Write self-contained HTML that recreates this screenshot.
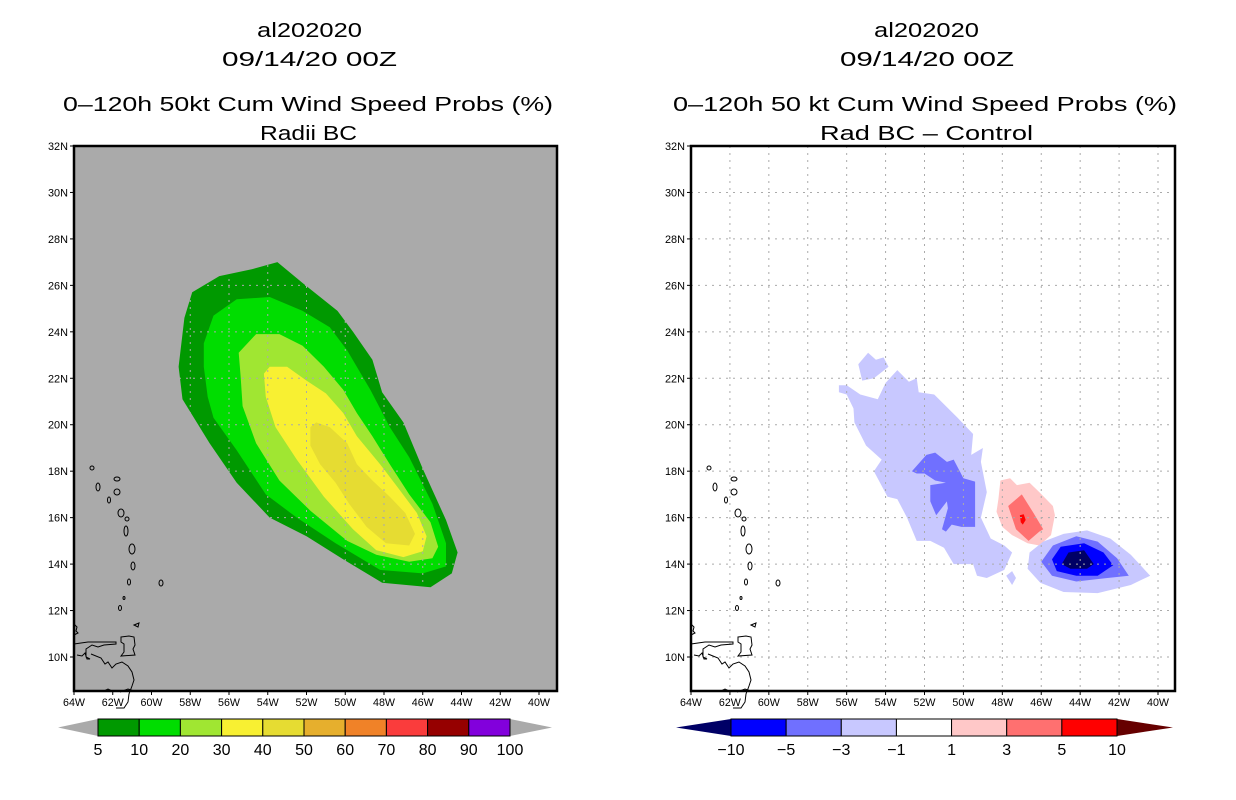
<!DOCTYPE html>
<html><head><meta charset="utf-8">
<style>
html,body{margin:0;padding:0;background:#fff;}
svg{display:block;font-family:"Liberation Sans","DejaVu Sans",sans-serif;}
</style></head>
<body>
<svg id="chart" width="1236" height="800" viewBox="0 0 1236 800" xmlns="http://www.w3.org/2000/svg">
<g font-size="20" fill="#000">
<text x="257" y="37" textLength="105" lengthAdjust="spacingAndGlyphs">al202020</text>
<text x="222" y="66" textLength="175" lengthAdjust="spacingAndGlyphs">09/14/20 00Z</text>
<text x="63" y="111" textLength="490" lengthAdjust="spacingAndGlyphs">0–120h 50kt Cum Wind Speed Probs (%)</text>
<text x="260" y="140" textLength="97" lengthAdjust="spacingAndGlyphs">Radii BC</text>
<text x="874" y="37" textLength="105" lengthAdjust="spacingAndGlyphs">al202020</text>
<text x="840" y="66" textLength="174" lengthAdjust="spacingAndGlyphs">09/14/20 00Z</text>
<text x="673" y="111" textLength="504" lengthAdjust="spacingAndGlyphs">0–120h 50 kt Cum Wind Speed Probs (%)</text>
<text x="820" y="140" textLength="213" lengthAdjust="spacingAndGlyphs">Rad BC – Control</text>
</g>
<g id="leftPanel"></g>
<g id="rightPanel"></g>
<g id="leftBar"></g>
<g id="rightBar"></g>
</svg>
<script>
// ---- axis tick data ----
const lonTicks = [64,62,60,58,56,54,52,50,48,46,44,42,40];
const latTicks = [32,30,28,26,24,22,20,18,16,14,12,10];

// ---- left panel contour bands (lon W, lat N) ----
const band5Lon  = [53.5,52.2,50.4,49.6,48.6,48.1,47.0,46.0,44.8,44.2,44.5,45.6,48.1,50.1,52.0,53.9,55.6,57.0,58.4,58.6,58.3,57.9,56.5,54.8];
const band5Lat  = [27.0,26.1,24.9,24.0,22.8,21.4,20.1,18.1,15.9,14.5,13.6,13.0,13.2,14.2,15.2,16.0,17.5,19.2,21.1,22.5,24.6,25.7,26.4,26.7];
const band10Lon = [57.3,56.8,55.6,53.9,52.2,50.8,49.9,48.7,47.7,46.7,45.5,44.8,44.8,46.0,48.2,50.5,52.5,54.1,55.6,56.8,57.1,57.3];
const band10Lat = [23.5,24.7,25.4,25.5,24.9,24.2,23.2,21.5,19.9,18.6,16.6,14.9,13.9,13.6,13.75,14.9,16.0,17.0,18.9,20.3,21.2,22.5];
const band20Lon = [55.5,54.6,53.4,52.2,51.1,50.1,49.4,48.6,47.7,46.7,45.6,45.2,45.5,46.7,48.4,49.9,51.8,53.4,54.6,55.3,55.4];
const band20Lat = [23.1,23.9,23.9,23.4,22.5,21.5,20.5,19.5,18.3,17.0,15.8,14.75,14.25,14.1,14.4,15.0,16.3,17.6,19.2,20.8,22.1];
const band30Lon = [54.2,53.9,53.0,52.0,51.0,50.1,49.4,48.2,47.2,46.3,45.8,46.0,47.0,48.4,49.6,51.1,52.5,53.6,54.1];
const band30Lat = [22.2,22.5,22.5,21.9,21.35,20.5,19.5,18.3,17.2,16.2,15.2,14.55,14.3,14.6,15.5,16.9,18.5,19.9,21.2];
const band40Lon = [51.8,51.5,50.8,49.9,49.4,48.6,47.7,46.9,46.4,46.7,47.9,48.9,49.8,50.5,51.3,51.8];
const band40Lat = [19.9,20.1,19.9,19.2,18.3,17.6,16.9,16.2,15.3,14.8,14.9,15.6,16.6,17.5,18.3,19.1];

// ---- right panel difference contours ----
const negMainLon = [56.4,56.0,55.3,54.4,54.0,53.4,52.8,52.4,52.3,51.5,50.3,49.5,49.6,49.0,49.1,48.8,49.1,48.6,47.9,47.5,47.9,48.8,49.3,49.5,50.5,51.0,51.7,52.4,52.9,53.4,53.9,54.6,54.2,55.0,55.6,55.65,56.0,56.4];
const negMainLat = [21.7,21.7,21.3,21.1,21.8,22.35,21.85,22.0,21.4,21.3,20.3,19.6,18.7,19.0,18.4,17.1,16.0,15.1,14.8,14.5,13.75,13.4,13.5,14.0,14.0,14.7,15.0,15.0,16.0,16.8,16.9,18.0,18.5,19.1,20.1,20.7,21.3,21.4];
const negBlobLon = [55.4,54.9,54.5,54.1,53.85,54.6,55.2];
const negBlobLat = [22.6,23.1,22.8,22.9,22.5,22.0,21.9];
const negTriLon  = [47.8,47.5,47.3,47.5];
const negTriLat  = [13.5,13.7,13.4,13.1];
const neg3WLon   = [52.65,51.9,51.45,50.85,50.5,50.0,49.4,49.4,50.1,50.6,50.9,51.1,50.8,50.85,51.4,51.7,51.7,50.9,51.45,52.0,52.4];
const neg3WLat   = [18.0,18.7,18.8,18.4,18.5,17.7,17.55,15.6,15.6,15.7,15.4,15.5,16.4,16.7,16.1,16.7,17.4,17.5,17.6,17.9,17.9];
const pos1Lon = [48.1,47.6,47.25,46.6,46.1,45.4,45.3,45.5,46.1,46.7,47.5,48.0,48.3,48.2];
const pos1Lat = [17.6,17.7,17.4,17.5,17.1,16.5,16.1,15.25,14.8,14.9,15.25,15.6,16.25,16.8];
const pos3Lon = [47.7,47.0,46.4,45.9,46.1,46.65,47.3];
const pos3Lat = [16.5,17.0,16.2,15.5,15.4,15.0,15.5];
const pos5Lon = [47.1,46.9,46.8,46.95,47.05];
const pos5Lat = [16.1,16.15,15.9,15.7,15.8];
const negE1Lon = [46.6,45.9,44.85,43.65,42.45,41.4,40.4,41.4,43.1,44.85,46.05,46.7];
const negE1Lat = [14.5,14.97,15.3,15.45,15.1,14.4,13.5,13.1,12.75,12.8,13.2,13.8];
const negE3Lon = [46.0,45.4,44.2,43.1,42.1,41.5,42.6,44.2,45.45];
const negE3Lat = [14.1,14.8,15.2,14.97,14.25,13.5,13.4,13.25,13.5];
const negE5Lon = [45.45,45.0,43.8,42.8,42.3,43.1,44.2,45.2];
const negE5Lat = [14.2,14.75,14.9,14.5,13.95,13.5,13.5,13.7];
const negE10Lon = [44.95,44.6,43.8,43.3,43.65,44.5];
const negE10Lat = [14.0,14.5,14.6,14.0,13.8,13.8];

// ---- colorbar data ----
const probLevels = ["5","10","20","30","40","50","60","70","80","90","100"];
const probColors = ["#009900","#00dd00","#a0e632","#f8f032","#e6dc32","#e6af2d","#f08228","#fa3c3c","#960000","#8200dc"];
const diffLevels = ["−10","−5","−3","−1","1","3","5","10"];
const diffColors = ["#0000ff","#7070ff","#c8c8ff","#ffffff","#ffc8c8","#ff7070","#ff0000"];

const NS = "http://www.w3.org/2000/svg";
function mk(tag, attrs, parent){const e=document.createElementNS(NS,tag);for(const k in attrs)e.setAttribute(k,attrs[k]);parent.appendChild(e);return e;}

function makePanel(g, left, right, lon40x, bg){
  const top=146, bottom=691;
  const xs=(lon)=>left+(64-lon)*(lon40x-left)/24;
  const ys=(lat)=>top+(32-lat)*(657-top)/22;
  const r=mk('rect',{x:left,y:top,width:right-left,height:bottom-top,fill:bg},g);
  
  
  return {xs,ys,top,bottom,left,right};
}
function poly(g, ax, lons, lats, fill, name){
  const pts=lons.map((lo,i)=>ax.xs(lo).toFixed(1)+','+ax.ys(lats[i]).toFixed(1)).join(' ');
  const p=mk('polygon',{points:pts,fill:fill},g);
  
  
}
function grid(g, ax, color){
  lonTicks.forEach(lo=>{const x=ax.xs(lo);if(x>ax.left+1&&x<ax.right-1){const l=mk('line',{x1:x,y1:ax.top,x2:x,y2:ax.bottom,stroke:color,'stroke-width':1,'stroke-dasharray':'2,5'},g);
    
    }});
  latTicks.forEach(la=>{const y=ax.ys(la);if(y>ax.top+1&&y<ax.bottom-1){const l=mk('line',{x1:ax.left,y1:y,x2:ax.right,y2:y,stroke:color,'stroke-width':1,'stroke-dasharray':'2,5'},g);
    
    }});
}
function coast(g, ax){
  const L=ax.left, T=ax.top;
  const isl=[[18,322,2,2],[43,333,3,2],[24,341,2,4],[43,346,3,3],[35,354,1.5,3],[47,367,3,4],[53,373,2,2],[52,385,2,5],[58,403,3,5],[59,420,2,4],[55,436,1.5,3],[87,437,2,3],[50,452,1,1.5],[46,462,1.5,2.5]];
  isl.forEach(a=>{const e=mk('ellipse',{cx:L+a[0],cy:T+a[1],rx:a[2],ry:a[3],fill:'none',stroke:'#000','stroke-width':1},g);
    
    });
  const paths=[
   `M${L+60} ${T+479} l5 -2 l-1 4 z`,
   `M${L+47} ${T+491} l8 -1 l5 1 l1 8 l-2 4 l2 6 l-14 1 l3 -4 l0 -8 l-3 -2 z`,
   `M${L} ${T+498} l14 -2 l28 0 l0 2 l-12 1 l-6 2 l-6 -2 l-6 4 l0 8 l4 2 l-3 0 l-2 -6 l-3 3 l-5 -1`,
   `M${L+17} ${T+508} l10 4 l4 6 l3 -2 l4 6 l4 -4 l6 -2 l6 4 l4 6 l2 8 l-2 6 l-3 8 l-1 8 l-4 6 l-8 0`,
   `M${L} ${T+478} l3 3 l-1 4 l2 2 l-4 2`,
   `M${L+60} ${T+545} l-6 -2 l-8 3 M${L+30} ${T+545} l4 -2 l4 2`
  ];
  paths.forEach(d=>{const p=mk('path',{d:d,fill:'none',stroke:'#000','stroke-width':1},g);
    
    });
}
function axes(g, ax){
  const b=mk('rect',{x:ax.left,y:ax.top,width:ax.right-ax.left,height:ax.bottom-ax.top,fill:'none',stroke:'#000','stroke-width':2.5},g);
  
  
  latTicks.forEach(la=>{const y=ax.ys(la);
    const t=mk('line',{x1:ax.left-4,y1:y,x2:ax.left,y2:y,stroke:'#000','stroke-width':1},g);
    
    
    const tx=mk('text',{x:ax.left-6,y:y+4,'font-size':11,'text-anchor':'end',textLength:20,lengthAdjust:'spacingAndGlyphs'},g);
    tx.textContent=la+'N';
    
    });
  lonTicks.forEach(lo=>{const x=ax.xs(lo);
    const t=mk('line',{x1:x,y1:ax.bottom,x2:x,y2:ax.bottom+4,stroke:'#000','stroke-width':1},g);
    
    
    const tx=mk('text',{x:x,y:ax.bottom+15,'font-size':11,'text-anchor':'middle',textLength:22,lengthAdjust:'spacingAndGlyphs'},g);
    tx.textContent=lo+'W';
    
    });
}

// Left panel
const gL=document.getElementById('leftPanel');
const axL=makePanel(gL,74,557,539,'#aaaaaa');
poly(gL,axL,band5Lon,band5Lat,probColors[0],'prob-5-10');
poly(gL,axL,band10Lon,band10Lat,probColors[1],'prob-10-20');
poly(gL,axL,band20Lon,band20Lat,probColors[2],'prob-20-30');
poly(gL,axL,band30Lon,band30Lat,probColors[3],'prob-30-40');
poly(gL,axL,band40Lon,band40Lat,probColors[4],'prob-40-50');
grid(gL,axL,'#aaaaaa');
coast(gL,axL);
axes(gL,axL);

// Right panel
const gR=document.getElementById('rightPanel');
const axR=makePanel(gR,691,1175,1158,'#ffffff');
poly(gR,axR,negMainLon,negMainLat,'#c8c8ff','diff-neg-1-3-main');
poly(gR,axR,negBlobLon,negBlobLat,'#c8c8ff','diff-neg-1-3-blob');
poly(gR,axR,negTriLon,negTriLat,'#c8c8ff','diff-neg-1-3-small');
poly(gR,axR,neg3WLon,neg3WLat,'#7070ff','diff-neg-3-5-west');
poly(gR,axR,pos1Lon,pos1Lat,'#ffc8c8','diff-pos-1-3');
poly(gR,axR,pos3Lon,pos3Lat,'#ff7070','diff-pos-3-5');
poly(gR,axR,pos5Lon,pos5Lat,'#ff0000','diff-pos-5-10');
poly(gR,axR,negE1Lon,negE1Lat,'#c8c8ff','diff-neg-1-3-east');
poly(gR,axR,negE3Lon,negE3Lat,'#7070ff','diff-neg-3-5-east');
poly(gR,axR,negE5Lon,negE5Lat,'#0000ff','diff-neg-5-10-east');
poly(gR,axR,negE10Lon,negE10Lat,'#000066','diff-neg-10-east');
grid(gR,axR,'#aaaaaa');
coast(gR,axR);
axes(gR,axR);

// Colorbars
function colorbar(g, x0, x1, tipL, tipR, colors, labels, leftTip, rightTip){
  const y0=719,y1=736,n=colors.length,w=(x1-x0)/n;
  const tl=mk('polygon',{points:`${tipL},${(y0+y1)/2} ${x0},${y0} ${x0},${y1}`,fill:leftTip},g);
  
  
  const tr=mk('polygon',{points:`${tipR},${(y0+y1)/2} ${x1},${y0} ${x1},${y1}`,fill:rightTip},g);
  
  
  colors.forEach((c,i)=>{const r=mk('rect',{x:x0+i*w,y:y0,width:w,height:y1-y0,fill:c,stroke:'#000','stroke-width':1},g);
    
    });
  labels.forEach((l,i)=>{const t=mk('text',{x:x0+i*w,y:y1+19,'font-size':16,'text-anchor':'middle'},g);
    t.textContent=l;
    
    });
}
colorbar(document.getElementById('leftBar'),98,510,58,552,probColors,probLevels,'#aaaaaa','#aaaaaa');
colorbar(document.getElementById('rightBar'),731,1117,676,1173,diffColors,diffLevels,'#000066','#660000');
</script>
</body></html>
